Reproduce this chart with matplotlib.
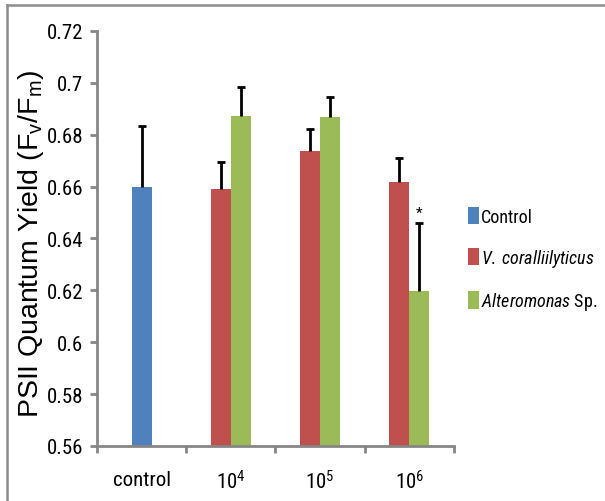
"""
PSII quantum yield (Fv/Fm) bar chart - control vs bacterial inoculation
"""

import numpy as np
import matplotlib
matplotlib.use("Agg")
import matplotlib.pyplot as plt
from matplotlib import font_manager
from matplotlib.lines import Line2D
from matplotlib.patches import Patch

# ---- data ----
categories = ["control", r"10$^\mathregular{4}$", r"10$^\mathregular{5}$", r"10$^\mathregular{6}$"]
control_val = [0.6597]
control_err = [0.0238]
vc_vals = [0.6592, 0.6738, 0.6617]          # V. coralliilyticus at 10^4..10^6
vc_errs = [0.0104, 0.0086, 0.0093]
alt_vals = [0.6871, 0.6867, 0.6196]         # Alteromonas Sp. at 10^4..10^6
alt_errs = [0.0113, 0.0077, 0.0262]
series_names = ["Control", r"$\mathit{V.\;coralliilyticus}$", r"$\mathit{Alteromonas}$ Sp."]

BLUE = "#4F81BD"
RED = "#C0504D"
GREEN = "#9BBB59"
AXIS_GRAY = "#868686"

# ---- font: narrow arial-like if available ----
installed = {f.name for f in font_manager.fontManager.ttflist}
NARROW = "Liberation Sans"
for cand in ["Arial Narrow", "Liberation Sans Narrow", "Roboto Condensed",
             "PT Sans Narrow", "Archivo Narrow"]:
    if cand in installed:
        NARROW = cand
        break
plt.rcParams["font.family"] = [NARROW, "DejaVu Sans"]
plt.rcParams["mathtext.fontset"] = "custom"
plt.rcParams["mathtext.rm"] = NARROW
plt.rcParams["mathtext.it"] = NARROW + ":italic"

fig = plt.figure(figsize=(6.05, 5.02), dpi=100)
ax = fig.add_axes([0.1603, 0.1096, 0.5901, 0.8267])

width = 0.225
x_grp = np.arange(1, 4)
ekw = dict(ecolor="black", elinewidth=2.0, capsize=3.2, capthick=2.0)

conts = [
    ax.bar([0], control_val, width, color=BLUE,
           yerr=[[0], control_err], error_kw=ekw, zorder=2),
    ax.bar(x_grp - width / 2, vc_vals, width, color=RED,
           yerr=[[0] * 3, vc_errs], error_kw=ekw, zorder=2),
    ax.bar(x_grp + width / 2, alt_vals, width, color=GREEN,
           yerr=[[0] * 3, alt_errs], error_kw=ekw, zorder=2),
]
# only the upper cap is shown
for c in conts:
    c.errorbar.lines[1][0].set_visible(False)

# significance marker
ax.text(3 + width / 2, alt_vals[2] + alt_errs[2] + 0.0015, "*",
        ha="center", va="bottom", fontsize=11)

ax.set_ylim(0.56, 0.72)
ax.set_xlim(-0.5, 3.5)
ax.set_yticks(np.arange(0.56, 0.7201, 0.02))
ax.set_yticklabels(["0.56", "0.58", "0.6", "0.62", "0.64", "0.66", "0.68", "0.7", "0.72"])
ax.set_xticks(np.arange(4))
ax.set_xticklabels(categories)
ax.set_xticks(np.arange(-0.5, 4.0, 1.0), minor=True)

for s in ["top", "right"]:
    ax.spines[s].set_visible(False)
for s in ["left", "bottom"]:
    ax.spines[s].set_color(AXIS_GRAY)
    ax.spines[s].set_linewidth(2)

ax.tick_params(axis="y", direction="out", length=5, width=2, color=AXIS_GRAY,
               labelsize=15, pad=5)
ax.tick_params(axis="x", which="major", length=0, labelsize=15, pad=17)
ax.tick_params(axis="x", which="minor", direction="out", length=5, width=2,
               color=AXIS_GRAY)

ax.set_ylabel(r"PSII Quantum Yield (F$_\mathregular{v}$/F$_\mathregular{m}$)",
              fontsize=20.5, family=["Liberation Sans", "DejaVu Sans"])
ax.yaxis.set_label_coords(-0.142, 0.49)

# ---- legend ----
handles = [Patch(facecolor=c, edgecolor="none") for c in (BLUE, RED, GREEN)]
fig.legend(handles, series_names, loc="upper left",
           bbox_to_anchor=(0.762, 0.6), frameon=False, fontsize=13,
           handlelength=0.6, handleheight=1.1, handletextpad=0.12,
           labelspacing=1.17, borderaxespad=0)

# ---- outer chart frame (grey, partly cropped) ----
fig.add_artist(Line2D([7 / 605, 7 / 605], [0, 1 - 6 / 502],
                      color="#8c8c8c", linewidth=1.8, transform=fig.transFigure))
fig.add_artist(Line2D([7 / 605, 1], [1 - 6 / 502, 1 - 6 / 502],
                      color="#8c8c8c", linewidth=1.8, transform=fig.transFigure))

fig.savefig("out.png", dpi=100)
